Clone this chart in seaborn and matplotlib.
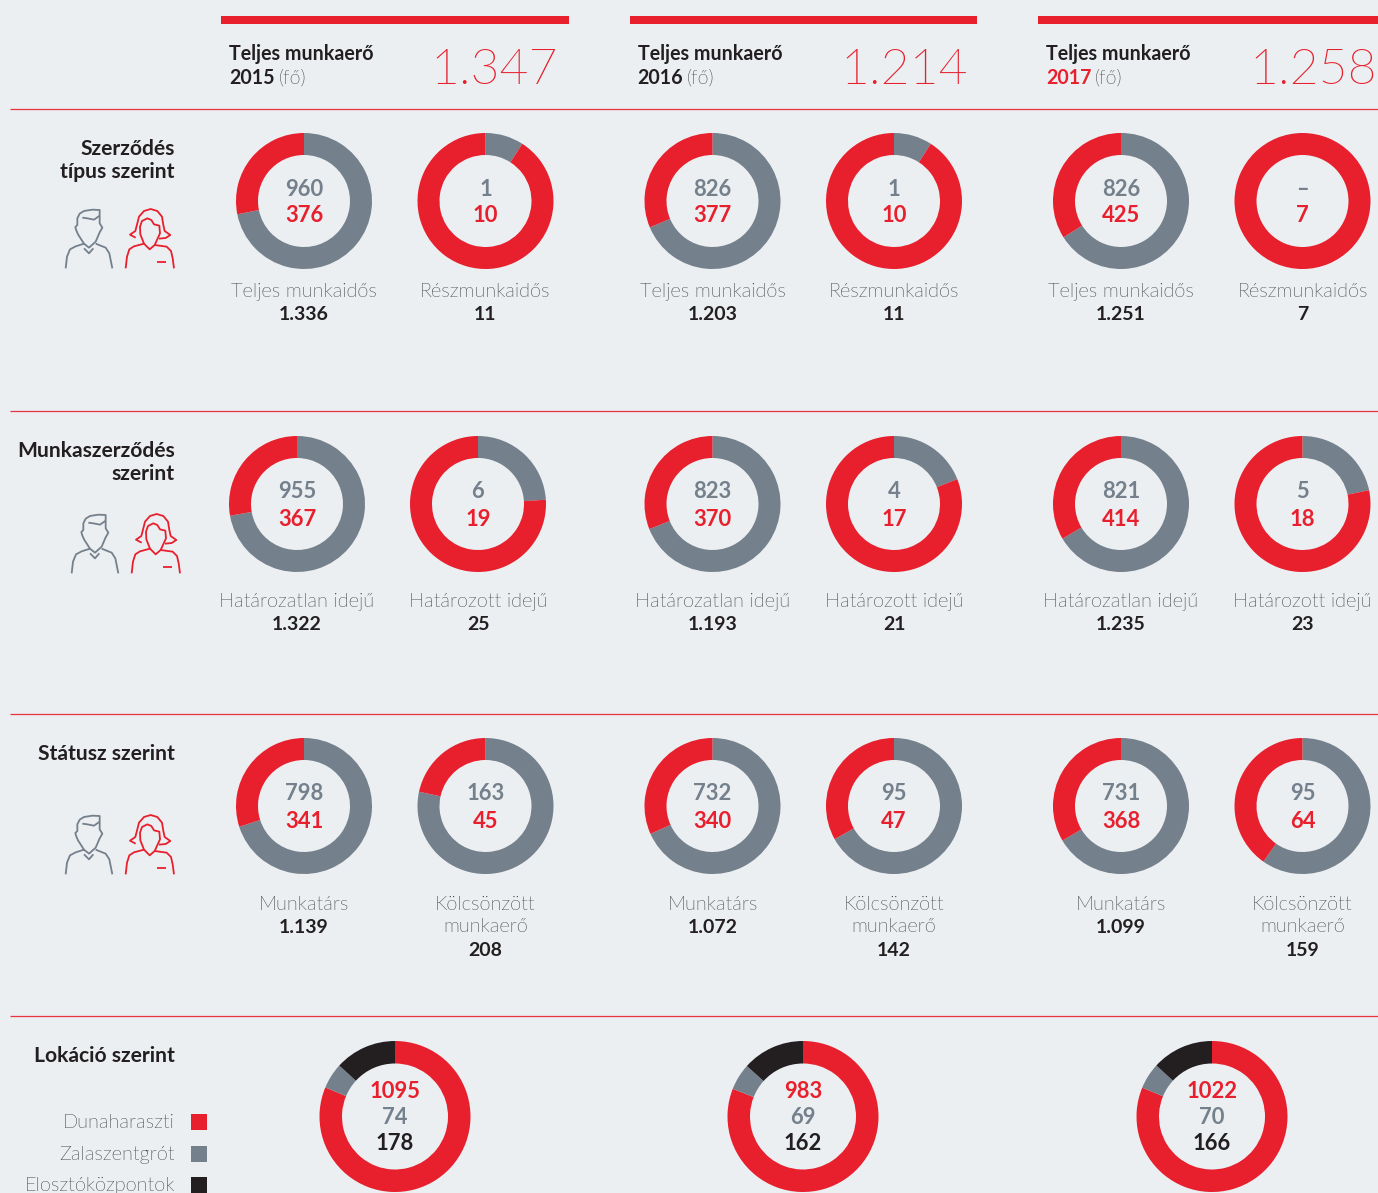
import matplotlib
matplotlib.use("Agg")
import matplotlib.pyplot as plt
from matplotlib.patches import Rectangle
from matplotlib import font_manager as fm
import seaborn as sns

BG = "#ECEFF2"
RED = "#E81F2D"
GRAY = "#74808B"
BLACK = "#231F20"
INK = "#3A3A3C"
W, H = 1378, 1193

sns.set_theme(style="white", rc={"figure.facecolor": BG, "savefig.facecolor": BG, "axes.facecolor": "none"})
plt.rcParams["font.family"] = ["Lato", "DejaVu Sans"]

# ---- data ----
years = ["2015", "2016", "2017"]
headcount = ["1.347", "1.214", "1.258"]

contract_gray = [960, 1, 826, 1, 826, 0]
contract_red = [376, 10, 377, 10, 425, 7]
contract_names = ["Teljes munkaidős", "Részmunkaidős"] * 3
contract_totals = ["1.336", "11", "1.203", "11", "1.251", "7"]

term_gray = [955, 6, 823, 4, 821, 5]
term_red = [367, 19, 370, 17, 414, 18]
term_names = ["Határozatlan idejű", "Határozott idejű"] * 3
term_totals = ["1.322", "25", "1.193", "21", "1.235", "23"]

status_gray = [798, 163, 732, 95, 731, 95]
status_red = [341, 45, 340, 47, 368, 64]
status_names = ["Munkatárs", "Kölcsönzött\nmunkaerő"] * 3
status_totals = ["1.139", "208", "1.072", "142", "1.099", "159"]

site_red = [1095, 983, 1022]
site_gray = [74, 69, 70]
site_black = [178, 162, 166]
site_names = ["Dunaharaszti", "Zalaszentgrót", "Elosztóközpontok"]

# ---- fonts: the true Light cut, not the hairline one ----
light_files = [f.fname for f in fm.fontManager.ttflist
               if f.name == "Lato" and "light" in f.fname.lower()
               and "hair" not in f.fname.lower() and "thin" not in f.fname.lower()
               and "italic" not in f.fname.lower() and f.style == "normal"]
LIGHT = fm.FontProperties(fname=light_files[0]) if light_files else fm.FontProperties(family="Lato")

# ---- canvas ----
fig = plt.figure(figsize=(W / 100, H / 100), dpi=100)
ov = fig.add_axes([0, 0, 1, 1], zorder=5)
ov.set_xlim(0, W)
ov.set_ylim(H, 0)
ov.axis("off")


def px(size):
    return size * 0.72


def txt(x, y, s, size, color=INK, weight="normal", ha="center", va="center"):
    if weight == "light":
        fp = LIGHT.copy()
        fp.set_size(px(size))
        return ov.text(x, y, s, fontproperties=fp, color=color, ha=ha, va=va)
    return ov.text(x, y, s, fontsize=px(size), color=color, fontweight=weight, ha=ha, va=va)


def donut(cx, cy, r, inner, values, colors, edge=0):
    ax = fig.add_axes([(cx - r) / W, 1 - (cy + r) / H, 2 * r / W, 2 * r / H], zorder=2)
    ax.pie(values, colors=colors, startangle=90, counterclock=False, radius=1,
           wedgeprops=dict(width=1 - inner / r, linewidth=0))
    ax.set_xlim(-1, 1)
    ax.set_ylim(-1, 1)
    ax.set_aspect("equal")
    sns.despine(ax=ax, left=True, bottom=True)


# ---- header ----
bars = [(221, 569), (630, 977), (1038, 1378)]
head_x = [229, 637.5, 1046]
num_right = [558, 968, 1377]
rend = fig.canvas.get_renderer()
for i in range(3):
    ov.add_patch(Rectangle((bars[i][0], 16), bars[i][1] - bars[i][0], 8, color=RED, lw=0))
    txt(head_x[i], 60, "Teljes munkaerő", 19.6, color=BLACK, weight="bold", ha="left", va="baseline")
    t = txt(head_x[i], 83.5, years[i], 19.6, color=RED if i == 2 else BLACK, weight="bold", ha="left", va="baseline")
    w = t.get_window_extent(rend).width
    txt(head_x[i] + w + 4, 83.5, "(fő)", 19.6, color=INK, weight="light", ha="left", va="baseline")
    txt(num_right[i], 84, headcount[i], 50, color=RED, weight="light", ha="right", va="baseline")

for y in (108.5, 411, 713.5, 1016):
    ov.plot([10, W], [y, y], color=RED, lw=0.9, solid_capstyle="butt", alpha=0.9)

# ---- section titles ----
for y, s in [(149, "Szerződés"), (172, "típus szerint"), (451, "Munkaszerződés"),
             (474, "szerint"), (754, "Státusz szerint"), (1056, "Lokáció szerint")]:
    txt(175, y, s, 21, color=BLACK, weight="bold", ha="right")


# ---- person icons (decoration) ----
def icon(x0, y0):
    man = [
        [(95, 220), (99, 185), (108, 163), (125, 154), (150, 146), (132, 118), (126, 104), (124, 96), (130, 90),
         (130, 70), (137, 56), (150, 48), (175, 44), (197, 45), (197, 65), (197, 85), (205, 98), (197, 112),
         (185, 140), (165, 158), (150, 146)],
        [(185, 146), (215, 158), (226, 175), (230, 195), (235, 220)],
        [(150, 160), (165, 175), (178, 160)],
        [(145, 68), (160, 70), (180, 74), (197, 62)],
    ]
    woman = [
        [(305, 128), (288, 119), (304, 108), (310, 85), (315, 65), (330, 48), (350, 42), (370, 48), (384, 65),
         (388, 90), (392, 108), (409, 120), (395, 129), (375, 131)],
        [(330, 146), (319, 118), (318, 95), (324, 78), (340, 70), (352, 75), (360, 88), (376, 92), (378, 115),
         (362, 150), (347, 163), (330, 146)],
        [(275, 220), (279, 185), (286, 163), (300, 154), (330, 146)],
        [(362, 150), (398, 155), (411, 168), (416, 190), (420, 220)],
        [(370, 202), (395, 202)],
    ]
    for group, col in ((man, GRAY), (woman, RED)):
        for seg in group:
            ov.plot([x0 + p[0] / 3 for p in seg], [y0 + p[1] / 3 for p in seg], color=col, lw=1.3,
                    solid_joinstyle="round", solid_capstyle="butt")


icon(34, 195)
icon(40, 500)
icon(34, 801)


# ---- donut rows ----
def row(xs, cy, gray, red, names, totals, name_y):
    for j, x in enumerate(xs):
        donut(x, cy, 68, 46, [gray[j], red[j]], [GRAY, RED])
        txt(x, cy - 12, str(gray[j]) if gray[j] else "–", 22, color=GRAY, weight="bold")
        txt(x, cy + 15, str(red[j]), 22, color=RED, weight="bold")
        lines = names[j].split("\n")
        for k, line in enumerate(lines):
            txt(x, name_y + 23 * k, line, 20, color=INK, weight="light")
        txt(x, name_y + 22.5 * len(lines) + 0.5, totals[j], 19.5, color=BLACK, weight="bold")


xs_a = [304, 485.5, 712.5, 894, 1121, 1302.5]
xs_b = [297, 478, 712.5, 894, 1121, 1302.5]
row(xs_a, 201, contract_gray, contract_red, contract_names, contract_totals, 292)
row(xs_b, 504, term_gray, term_red, term_names, term_totals, 602)
row(xs_a, 806, status_gray, status_red, status_names, status_totals, 904.5)

# ---- location row ----
site_x = [395, 803, 1212]
for j, x in enumerate(site_x):
    donut(x, 1116.5, 75.5, 53, [site_red[j], site_gray[j], site_black[j]], [RED, GRAY, BLACK])
    txt(x, 1091, str(site_red[j]), 22, color=RED, weight="bold")
    txt(x, 1118, str(site_gray[j]), 22, color=GRAY, weight="bold")
    txt(x, 1144, str(site_black[j]), 22, color=BLACK, weight="bold")

for name, col, y in zip(site_names, [RED, GRAY, BLACK], (1123, 1154.5, 1186)):
    txt(175, y, name, 20, color=INK, weight="light", ha="right")
    ov.add_patch(Rectangle((191, y - 9), 16, 16, color=col, lw=0))

fig.savefig("out.png", dpi=100)
